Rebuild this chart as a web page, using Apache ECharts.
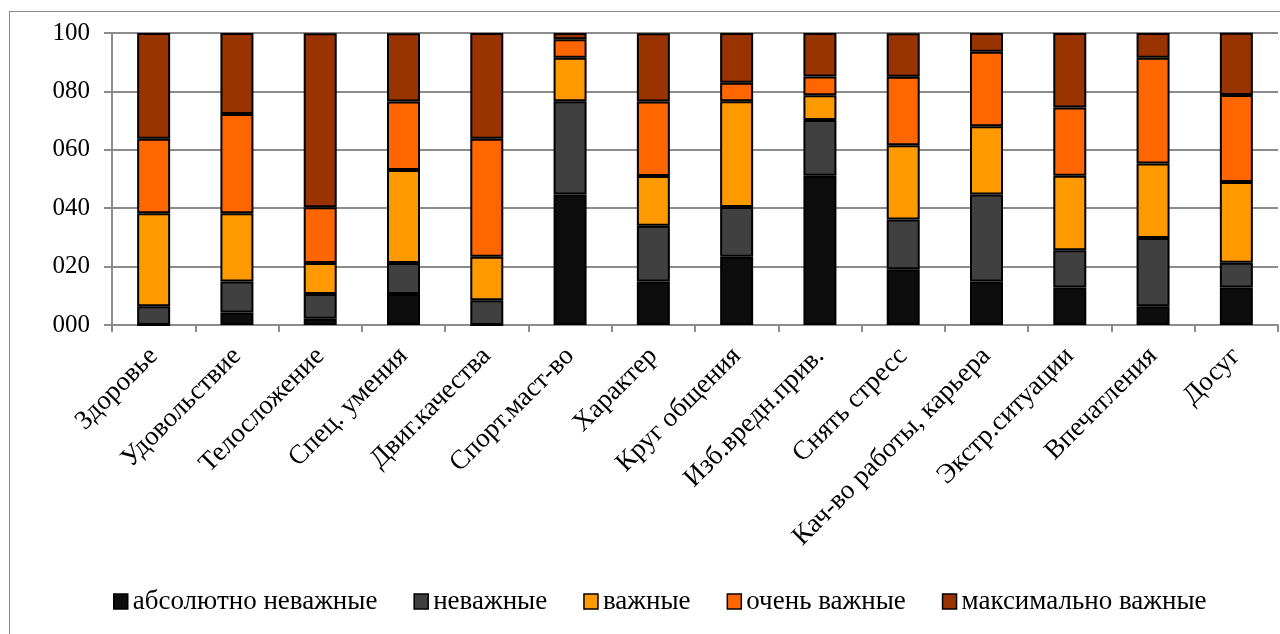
<!DOCTYPE html>
<html>
<head>
<meta charset="utf-8">
<script src="https://cdn.jsdelivr.net/npm/echarts@6/dist/echarts.min.js"></script>
<style>
  html, body { margin: 0; padding: 0; background: #fff; }
  #frame { position: absolute; left: 9px; top: 11px; width: 1300px; height: 700px; border: 1px solid #8c8c8c; box-sizing: border-box; }
  #chart { position: absolute; left: 0; top: 0; width: 1280px; height: 634px; }
</style>
</head>
<body>
<div id="frame"></div>
<div id="chart"></div>
<script>
// Мотивы занятий: доля ответов (%) по степени важности
const categories = ['Здоровье', 'Удовольствие', 'Телосложение', 'Спец. умения', 'Двиг.качества',
  'Спорт.маст-во', 'Характер', 'Круг общения', 'Изб.вредн.прив.', 'Снять стресс',
  'Кач-во работы, карьера', 'Экстр.ситуации', 'Впечатления', 'Досуг'];

const absolutelyUnimportant = [0, 4.3, 2.1, 10.6, 0, 44.7, 14.9, 23.4, 51.1, 19.1, 14.9, 12.8, 6.4, 12.8];
const unimportant           = [6.4, 10.6, 8.5, 10.6, 8.5, 31.9, 19.1, 17.0, 19.1, 17.0, 29.8, 12.8, 23.4, 8.5];
const important             = [31.9, 23.4, 10.6, 31.9, 14.9, 14.9, 17.0, 36.2, 8.5, 25.5, 23.4, 25.5, 25.5, 27.7];
const veryImportant         = [25.5, 34.0, 19.1, 23.4, 40.4, 6.4, 25.5, 6.4, 6.4, 23.4, 25.5, 23.4, 36.2, 29.8];
const maximallyImportant    = [36.2, 27.7, 59.6, 23.4, 36.2, 2.1, 23.4, 17.0, 14.9, 14.9, 6.4, 25.5, 8.5, 21.3];

const seriesNames = ['абсолютно неважные', 'неважные', 'важные', 'очень важные', 'максимально важные'];
const seriesData = [absolutelyUnimportant, unimportant, important, veryImportant, maximallyImportant];
const seriesColors = ['#0d0d0d', '#404040', '#ff9900', '#ff6600', '#993300'];

const yTicks = ['000', '020', '040', '060', '080', '100'];

const font = '"Liberation Serif", "Times New Roman", serif';
const gridColor = '#8c8c8c';

const chart = echarts.init(document.getElementById('chart'), null, { renderer: 'canvas' });

chart.setOption({
  backgroundColor: 'transparent',
  animation: false,
  textStyle: { fontFamily: font, color: '#000' },
  grid: { left: 112, right: 2, top: 33, bottom: 309, containLabel: false },
  legend: {
    bottom: 14,
    left: 108,
    itemWidth: 14,
    itemHeight: 15,
    itemGap: 36,
    icon: 'rect',
    textStyle: { fontFamily: font, fontSize: 27, color: '#000' },
    itemStyle: { borderColor: '#000', borderWidth: 1.5 },
    data: seriesNames
  },
  xAxis: {
    type: 'category',
    data: categories,
    axisLine: { lineStyle: { color: gridColor, width: 2 } },
    axisTick: { show: true, length: 7, lineStyle: { color: gridColor, width: 2 } },
    axisLabel: {
      rotate: 45,
      interval: 0,
      margin: 27,
      fontFamily: font,
      fontSize: 27,
      color: '#000'
    }
  },
  yAxis: {
    type: 'value',
    min: 0,
    max: 100,
    interval: 20,
    axisLine: { show: true, lineStyle: { color: gridColor, width: 2 } },
    axisTick: { show: true, length: 8, lineStyle: { color: gridColor, width: 2 } },
    splitLine: { lineStyle: { color: gridColor, width: 2 } },
    axisLabel: {
      margin: 22,
      fontFamily: font,
      fontSize: 25,
      color: '#000',
      formatter: v => yTicks[Math.round(v / 20)]
    }
  },
  series: seriesNames.map((name, i) => ({
    name,
    type: 'bar',
    stack: 'total',
    barWidth: 33,
    data: seriesData[i],
    itemStyle: { color: seriesColors[i], borderColor: '#000', borderWidth: 2 }
  }))
});
</script>
</body>
</html>
